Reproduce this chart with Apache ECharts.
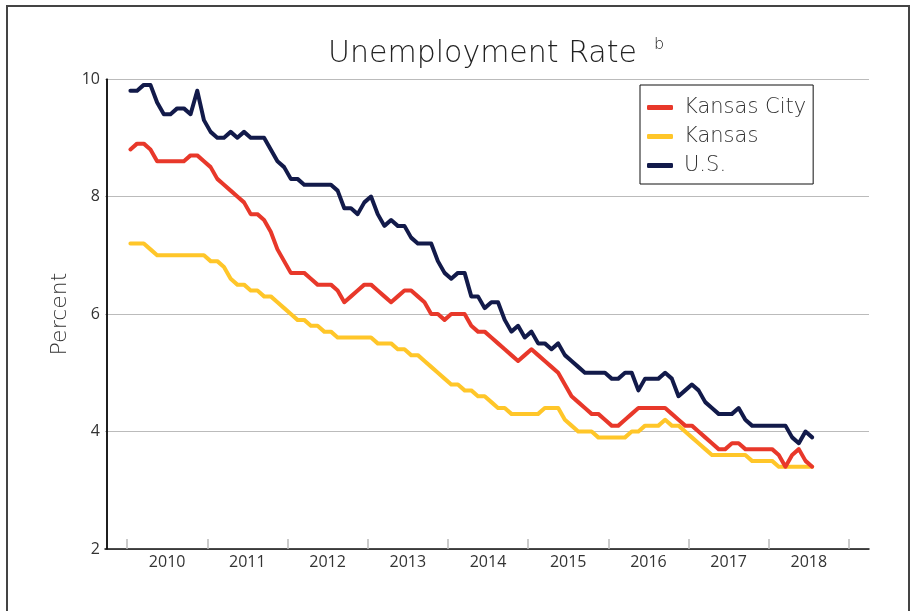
<!DOCTYPE html>
<html>
<head>
<meta charset="utf-8">
<title>Unemployment Rate</title>
<script src="https://cdn.jsdelivr.net/npm/echarts@6/dist/echarts.min.js"></script>
<style>
    html, body { margin: 0; padding: 0; background: #fff; }
    #chart { width: 915px; height: 611px; }
</style>
</head>
<body>
<div id="chart"></div>
<script>
(function () {
    'use strict';

    // monthly, Jan 2010 .. Jul 2018
    var years = ['2010', '2011', '2012', '2013', '2014', '2015', '2016', '2017', '2018'];

    var kansasCity = [
        8.8, 8.9, 8.9, 8.8, 8.6, 8.6, 8.6, 8.6, 8.6, 8.7, 8.7, 8.6,
        8.5, 8.3, 8.2, 8.1, 8.0, 7.9, 7.7, 7.7, 7.6, 7.4, 7.1, 6.9,
        6.7, 6.7, 6.7, 6.6, 6.5, 6.5, 6.5, 6.4, 6.2, 6.3, 6.4, 6.5,
        6.5, 6.4, 6.3, 6.2, 6.3, 6.4, 6.4, 6.3, 6.2, 6.0, 6.0, 5.9,
        6.0, 6.0, 6.0, 5.8, 5.7, 5.7, 5.6, 5.5, 5.4, 5.3, 5.2, 5.3,
        5.4, 5.3, 5.2, 5.1, 5.0, 4.8, 4.6, 4.5, 4.4, 4.3, 4.3, 4.2,
        4.1, 4.1, 4.2, 4.3, 4.4, 4.4, 4.4, 4.4, 4.4, 4.3, 4.2, 4.1,
        4.1, 4.0, 3.9, 3.8, 3.7, 3.7, 3.8, 3.8, 3.7, 3.7, 3.7, 3.7,
        3.7, 3.6, 3.4, 3.6, 3.7, 3.5, 3.4
    ];

    var kansas = [
        7.2, 7.2, 7.2, 7.1, 7.0, 7.0, 7.0, 7.0, 7.0, 7.0, 7.0, 7.0,
        6.9, 6.9, 6.8, 6.6, 6.5, 6.5, 6.4, 6.4, 6.3, 6.3, 6.2, 6.1,
        6.0, 5.9, 5.9, 5.8, 5.8, 5.7, 5.7, 5.6, 5.6, 5.6, 5.6, 5.6,
        5.6, 5.5, 5.5, 5.5, 5.4, 5.4, 5.3, 5.3, 5.2, 5.1, 5.0, 4.9,
        4.8, 4.8, 4.7, 4.7, 4.6, 4.6, 4.5, 4.4, 4.4, 4.3, 4.3, 4.3,
        4.3, 4.3, 4.4, 4.4, 4.4, 4.2, 4.1, 4.0, 4.0, 4.0, 3.9, 3.9,
        3.9, 3.9, 3.9, 4.0, 4.0, 4.1, 4.1, 4.1, 4.2, 4.1, 4.1, 4.0,
        3.9, 3.8, 3.7, 3.6, 3.6, 3.6, 3.6, 3.6, 3.6, 3.5, 3.5, 3.5,
        3.5, 3.4, 3.4, 3.4, 3.4, 3.4, 3.4
    ];

    var us = [
        9.8, 9.8, 9.9, 9.9, 9.6, 9.4, 9.4, 9.5, 9.5, 9.4, 9.8, 9.3,
        9.1, 9.0, 9.0, 9.1, 9.0, 9.1, 9.0, 9.0, 9.0, 8.8, 8.6, 8.5,
        8.3, 8.3, 8.2, 8.2, 8.2, 8.2, 8.2, 8.1, 7.8, 7.8, 7.7, 7.9,
        8.0, 7.7, 7.5, 7.6, 7.5, 7.5, 7.3, 7.2, 7.2, 7.2, 6.9, 6.7,
        6.6, 6.7, 6.7, 6.3, 6.3, 6.1, 6.2, 6.2, 5.9, 5.7, 5.8, 5.6,
        5.7, 5.5, 5.5, 5.4, 5.5, 5.3, 5.2, 5.1, 5.0, 5.0, 5.0, 5.0,
        4.9, 4.9, 5.0, 5.0, 4.7, 4.9, 4.9, 4.9, 5.0, 4.9, 4.6, 4.7,
        4.8, 4.7, 4.5, 4.4, 4.3, 4.3, 4.3, 4.4, 4.2, 4.1, 4.1, 4.1,
        4.1, 4.1, 4.1, 3.9, 3.8, 4.0, 3.9
    ];

    var seriesNames = ['Kansas City', 'Kansas', 'U.S.'];
    var yTicks = [2, 4, 6, 8, 10];

    var font = '"Open Sans", "Lato", sans-serif';
    var wideFont = '"DejaVu Sans", "Open Sans", sans-serif';
    var textColor = '#333';

    // x axis runs in months; the plot starts 3 months before Jan 2010
    // and ends about 3 months after the last tick
    var lead = 3;
    var xMax = lead + years.length * 12 + 3;

    // points sit mid-month
    function toPoints(arr) {
        return arr.map(function (v, i) {
            return [lead + i + 0.5, v];
        });
    }

    var yearTicks = years.map(function (y, k) { return lead + k * 12; });
    yearTicks.push(lead + years.length * 12);
    var yearLabelPos = years.map(function (y, k) { return lead + k * 12 + 6; });

    function lineSeries(name, data, color) {
        return {
            name: name,
            type: 'line',
            data: toPoints(data),
            showSymbol: false,
            symbol: 'none',
            lineStyle: { color: color, width: 4, join: 'round', cap: 'round' },
            itemStyle: { color: color }
        };
    }

    var option = {
        animation: false,
        backgroundColor: '#fff',
        title: {
            text: 'Unemployment Rate',
            left: 323,
            top: 34,
            textStyle: { fontFamily: wideFont, fontSize: 30, fontWeight: 200, color: '#222' }
        },
        legend: {
            orient: 'vertical',
            left: 640,
            top: 85,
            padding: [12, 7, 8, 7],
            itemGap: 8,
            itemWidth: 26,
            itemHeight: 5,
            icon: 'roundRect',
            borderColor: '#111',
            borderWidth: 1,
            data: seriesNames,
            textStyle: { fontFamily: wideFont, fontSize: 21, fontWeight: 200, color: textColor, padding: [0, 0, 0, 6] }
        },
        grid: {
            left: 105,
            right: 46,
            top: 79,
            bottom: 62,
            containLabel: false
        },
        xAxis: {
            type: 'value',
            min: -0.3,
            max: xMax,
            axisLine: { show: true, lineStyle: { color: '#111', width: 1.5 } },
            axisTick: {
                show: true,
                inside: true,
                length: 10,
                customValues: yearTicks,
                lineStyle: { color: '#bbb', width: 1.5 }
            },
            axisLabel: {
                customValues: yearLabelPos,
                margin: 5,
                fontFamily: font,
                fontSize: 16,
                color: textColor,
                formatter: function (v) {
                    return years[Math.round((v - lead - 6) / 12)];
                }
            },
            splitLine: { show: false }
        },
        yAxis: {
            type: 'value',
            min: yTicks[0],
            max: yTicks[yTicks.length - 1],
            interval: 2,
            name: 'Percent',
            nameLocation: 'middle',
            nameGap: 34,
            nameTextStyle: { fontFamily: wideFont, fontSize: 22, fontWeight: 200, color: textColor },
            axisLine: { show: true, onZero: true, lineStyle: { color: '#111', width: 1.5 } },
            axisTick: { show: false },
            axisLabel: { margin: 5, fontFamily: font, fontSize: 16, color: textColor },
            splitLine: { show: true, lineStyle: { color: '#bbb', width: 1 } }
        },
        graphic: [
            {
                // outer frame
                type: 'rect',
                shape: { x: 7, y: 6, width: 902, height: 700 },
                style: { fill: null, stroke: '#444', lineWidth: 2 },
                silent: true
            },
            {
                // left axis rule, drawn on top in case the axis line gets lost at the grid edge
                type: 'line',
                z: 100,
                shape: { x1: 107, y1: 79, x2: 107, y2: 549 },
                style: { stroke: '#111', lineWidth: 1.5 },
                silent: true
            },
            {
                type: 'text',
                left: 654,
                top: 37,
                style: { text: 'b', fontFamily: wideFont, fontSize: 16, fontWeight: 200, fill: '#222' }
            }
        ],
        series: [
            lineSeries('Kansas', kansas, '#FFC629'),
            lineSeries('Kansas City', kansasCity, '#E8382A'),
            lineSeries('U.S.', us, '#121A4A')
        ]
    };

    var chart = echarts.init(document.getElementById('chart'), null, { renderer: 'canvas' });
    chart.setOption(option);
})();
</script>
</body>
</html>
